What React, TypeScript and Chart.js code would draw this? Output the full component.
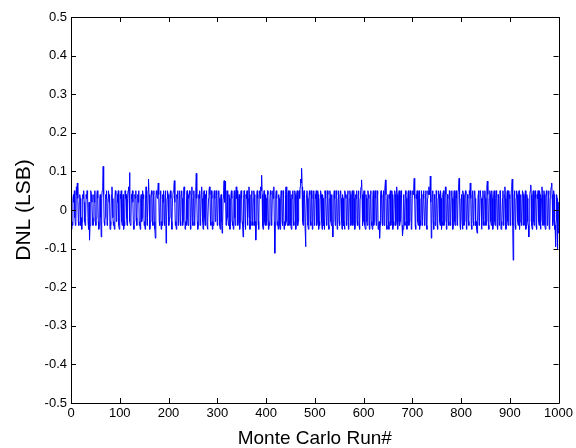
import React, { useEffect, useRef } from "react";
import { Chart, registerables } from "chart.js";

Chart.register(...registerables);

const xTicks = [0, 100, 200, 300, 400, 500, 600, 700, 800, 900, 1000];
const yTickLabels = ["-0.5", "-0.4", "-0.3", "-0.2", "-0.1", "0", "0.1", "0.2", "0.3", "0.4", "0.5"];
const xTitle = "Monte Carlo Run#";
const yTitle = "DNL (LSB)";

// DNL per Monte Carlo run (1..1000)
const dnl = [
  -0.05, -0.03, -0.04, 0.03, 0.04, 0.02, 0.05, -0.02, -0.04, -0.03, 0.06, 0.04, 0.07, 0.03, -0.03, -0.04, 0.02, 0.04, 0.03, -0.04, -0.02, -0.05, -0.03, 0.04, 0.03,
  0.05, 0.02, -0.03, -0.04, -0.02, 0.04, 0.03, 0.05, 0.04, -0.03, -0.05, 0.02, -0.078, -0.04, 0.03, 0.05, 0.04, 0.02, -0.02, -0.04, -0.03, 0.04, 0.02, 0.05, -0.03,
  -0.04, -0.02, 0.04, 0.05, 0.03, -0.03, -0.05, -0.04, 0.03, 0.04, -0.02, -0.07, 0.03, 0.05, 0.06, 0.113, 0.04, -0.03, -0.04, -0.02, 0.04, 0.03, 0.05, -0.04, -0.03,
  0.03, 0.05, 0.02, 0.04, -0.05, -0.03, -0.04, 0.04, 0.06, 0.03, -0.02, -0.04, -0.03, -0.05, 0.03, 0.05, 0.04, -0.03, -0.02, 0.04, 0.02, 0.05, -0.04, -0.05, -0.03,
  0.04, 0.03, 0.05, -0.03, -0.04, 0.02, 0.04, -0.05, -0.03, -0.04, 0.05, 0.03, 0.04, -0.02, -0.04, 0.03, 0.05, 0.06, 0.04, 0.097, -0.03, -0.04, -0.02, 0.04, 0.03,
  0.05, 0.02, -0.04, -0.05, -0.03, 0.04, 0.03, 0.05, -0.02, -0.04, 0.03, 0.04, 0.02, 0.05, -0.04, -0.03, -0.05, 0.03, 0.04, -0.03, -0.02, 0.05, 0.03, 0.04, -0.04,
  -0.03, -0.05, 0.04, 0.06, 0.03, -0.04, -0.02, 0.05, 0.08, 0.04, -0.04, -0.05, -0.03, 0.03, 0.05, 0.04, -0.03, -0.04, 0.04, 0.05, -0.03, -0.05, -0.073, 0.03, 0.05,
  0.04, 0.03, 0.05, 0.07, 0.04, -0.03, -0.04, 0.03, 0.05, -0.05, -0.03, -0.04, 0.04, 0.02, 0.05, -0.03, -0.04, 0.04, 0.05, -0.086, -0.04, 0.03, 0.05, 0.04, -0.03,
  -0.04, -0.02, 0.04, 0.05, 0.03, -0.03, -0.05, 0.03, 0.04, 0.05, 0.06, 0.076, 0.02, -0.04, -0.03, -0.05, 0.04, 0.03, 0.05, -0.04, -0.02, 0.03, 0.05, -0.03, -0.04,
  0.04, 0.05, 0.03, -0.04, -0.03, 0.05, 0.06, 0.04, -0.05, -0.03, -0.04, 0.03, 0.05, -0.02, -0.04, 0.04, 0.03, 0.05, 0.04, -0.05, -0.03, 0.04, 0.06, -0.03, -0.04,
  0.03, 0.05, -0.04, -0.03, 0.04, 0.06, 0.095, 0.03, -0.03, -0.05, -0.04, 0.04, 0.03, 0.05, -0.04, -0.02, 0.04, 0.06, 0.03, -0.03, -0.05, 0.04, 0.05, -0.02, -0.04,
  0.04, 0.03, 0.05, -0.04, -0.05, -0.03, 0.03, 0.05, 0.06, 0.04, -0.03, -0.04, 0.05, 0.03, -0.05, -0.03, -0.04, 0.04, 0.05, 0.03, -0.03, -0.02, 0.05, 0.04, -0.04,
  -0.03, 0.04, 0.05, 0.03, -0.04, -0.05, 0.03, 0.04, -0.03, -0.06, -0.04, 0.03, 0.05, 0.076, 0.02, 0.075, 0.04, -0.04, -0.03, 0.05, 0.04, -0.02, -0.04, 0.04, 0.03,
  -0.05, -0.03, 0.04, 0.05, 0.03, -0.04, -0.03, -0.05, 0.03, 0.05, -0.02, -0.04, 0.04, 0.06, 0.03, 0.05, -0.04, -0.03, 0.03, 0.04, -0.05, -0.03, 0.04, 0.05, 0.03,
  -0.03, -0.04, -0.07, 0.03, 0.05, 0.04, -0.03, -0.05, 0.04, 0.03, 0.05, -0.04, -0.02, 0.03, 0.06, 0.04, -0.05, -0.03, -0.04, 0.04, 0.05, -0.03, -0.04, 0.03, 0.05,
  0.04, -0.04, -0.03, -0.078, -0.04, 0.04, 0.05, 0.03, -0.03, -0.05, 0.04, 0.05, 0.03, 0.06, 0.05, 0.09, 0.04, -0.04, -0.05, 0.03, 0.05, -0.03, -0.04, 0.04, 0.03,
  -0.04, -0.03, 0.05, 0.04, -0.05, -0.03, -0.04, 0.03, 0.05, 0.04, -0.04, -0.02, 0.04, 0.05, 0.03, 0.06, -0.03, -0.112, -0.04, 0.04, 0.05, 0.03, -0.04, -0.03, -0.05,
  0.04, 0.03, -0.04, -0.05, 0.03, 0.05, 0.04, -0.03, -0.04, 0.05, 0.03, -0.05, -0.03, -0.04, 0.04, 0.06, 0.03, -0.03, -0.04, 0.04, 0.05, -0.04, -0.03, 0.05, 0.03,
  -0.04, -0.05, 0.04, 0.03, 0.05, -0.03, -0.04, 0.03, 0.05, 0.04, -0.05, -0.03, 0.04, 0.05, -0.04, -0.03, 0.04, 0.05, 0.03, 0.06, 0.08, 0.07, 0.108, 0.06, -0.03,
  -0.04, 0.04, 0.05, 0.03, -0.04, -0.095, -0.03, 0.04, 0.05, 0.03, -0.04, -0.05, 0.03, 0.05, 0.04, -0.03, -0.04, 0.05, 0.03, -0.05, -0.03, 0.04, 0.05, -0.04, -0.03,
  0.04, 0.03, 0.05, -0.04, -0.03, 0.05, 0.04, -0.05, -0.03, -0.04, 0.03, 0.05, 0.04, -0.03, -0.05, 0.04, 0.03, -0.04, -0.03, -0.05, 0.05, 0.04, 0.03, -0.04, -0.03,
  0.05, 0.04, -0.04, -0.05, 0.03, 0.05, 0.04, -0.03, -0.04, 0.04, -0.04, -0.07, -0.03, 0.04, 0.05, 0.03, -0.04, -0.03, 0.05, 0.04, -0.05, -0.04, 0.03, 0.05, -0.03,
  -0.04, 0.04, 0.05, 0.03, -0.03, -0.05, 0.04, 0.03, -0.04, -0.03, -0.05, 0.05, 0.04, 0.03, -0.04, -0.03, 0.04, 0.05, -0.05, -0.03, 0.03, 0.05, 0.04, -0.04, -0.03,
  0.04, 0.05, -0.04, -0.03, 0.05, 0.03, -0.05, -0.04, 0.04, 0.03, 0.05, -0.03, -0.04, 0.04, 0.05, -0.04, -0.05, 0.03, 0.05, 0.06, 0.078, 0.04, -0.04, -0.03, 0.04,
  0.05, 0.03, -0.04, -0.05, 0.04, 0.03, -0.03, -0.04, 0.05, 0.04, 0.03, -0.05, -0.03, 0.04, 0.05, -0.04, -0.03, -0.05, 0.03, 0.05, -0.04, -0.03, 0.04, 0.05, 0.03,
  -0.04, -0.03, 0.05, 0.04, -0.05, -0.04, -0.03, -0.073, -0.04, 0.04, 0.05, 0.03, -0.03, -0.04, 0.04, 0.05, -0.04, 0.03, 0.05, 0.078, 0.04, -0.04, -0.05, 0.03, 0.04,
  -0.03, -0.05, 0.04, 0.03, 0.05, -0.04, -0.03, 0.05, 0.04, -0.05, -0.03, -0.04, 0.03, 0.05, 0.04, -0.04, -0.03, 0.06, 0.04, -0.05, -0.03, 0.04, 0.05, -0.04, -0.03,
  0.04, 0.05, 0.03, -0.04, -0.066, -0.05, 0.04, 0.03, -0.03, -0.04, 0.05, 0.04, 0.03, -0.05, -0.03, 0.04, 0.05, -0.04, -0.03, 0.03, 0.05, 0.04, -0.05, -0.04, 0.04,
  0.05, 0.04, 0.06, 0.082, 0.03, -0.04, -0.05, 0.04, 0.03, 0.05, -0.03, -0.04, 0.04, 0.05, -0.05, -0.03, -0.04, 0.03, 0.05, -0.04, -0.03, 0.04, 0.05, 0.03, -0.04,
  -0.03, 0.04, 0.05, -0.04, -0.05, 0.03, 0.05, 0.04, 0.06, 0.05, 0.04, 0.088, 0.02, -0.073, -0.04, 0.04, 0.05, -0.03, -0.05, 0.04, 0.03, -0.04, -0.03, 0.05, 0.04,
  -0.04, -0.05, 0.03, 0.05, 0.04, -0.03, -0.04, 0.05, 0.03, -0.05, -0.03, -0.04, 0.04, 0.05, -0.04, -0.03, 0.03, 0.06, 0.04, -0.05, -0.04, 0.04, 0.03, -0.03, -0.04,
  0.05, 0.04, -0.04, -0.03, 0.04, 0.05, 0.03, -0.05, -0.04, 0.03, 0.05, -0.03, -0.04, 0.04, 0.05, 0.03, -0.04, -0.03, 0.05, 0.06, 0.082, 0.04, -0.04, -0.05, 0.03,
  0.04, -0.03, -0.05, 0.05, 0.04, -0.04, -0.03, 0.03, 0.05, 0.04, -0.05, -0.04, 0.04, 0.03, -0.03, -0.04, 0.05, 0.04, 0.07, 0.03, -0.04, -0.05, 0.04, 0.05, -0.03,
  -0.04, 0.04, 0.05, 0.03, -0.04, -0.03, -0.05, -0.06, -0.03, 0.04, 0.05, -0.04, -0.03, 0.05, 0.04, 0.03, -0.05, -0.04, 0.03, 0.05, -0.03, -0.04, 0.04, 0.05, 0.03,
  -0.04, -0.03, 0.06, 0.075, 0.04, -0.04, -0.05, 0.03, 0.05, 0.04, -0.03, -0.04, 0.05, 0.03, -0.05, -0.04, 0.04, 0.05, -0.03, -0.04, 0.03, 0.05, 0.04, -0.04, -0.05,
  0.04, 0.03, -0.04, -0.03, 0.05, 0.04, -0.05, -0.03, -0.04, 0.03, 0.05, -0.04, -0.03, 0.04, 0.06, 0.03, -0.05, -0.04, 0.04, 0.05, -0.03, -0.04, 0.05, 0.03, 0.04,
  -0.04, -0.03, 0.05, 0.06, 0.08, -0.04, -0.13, -0.03, 0.04, 0.05, -0.04, -0.05, 0.03, 0.05, 0.04, -0.03, -0.04, 0.04, 0.05, -0.05, -0.03, 0.04, 0.03, -0.04, -0.03,
  0.05, 0.05, 0.04, -0.04, -0.03, 0.03, 0.05, -0.05, -0.04, 0.04, 0.03, -0.03, -0.04, -0.07, -0.03, 0.04, 0.05, 0.065, 0.04, -0.04, -0.05, 0.03, 0.05, -0.03, -0.04,
  0.04, 0.05, 0.03, -0.04, -0.05, 0.04, 0.03, 0.05, -0.03, -0.04, 0.05, 0.04, -0.05, -0.03, 0.03, 0.06, 0.04, -0.04, -0.03, 0.05, 0.04, -0.04, -0.05, 0.03, 0.05,
  0.04, -0.04, -0.03, 0.04, 0.05, -0.05, -0.04, 0.03, 0.05, 0.06, 0.07, 0.04, -0.04, -0.03, 0.05, 0.04, -0.05, -0.04, -0.095, -0.03, 0.04, 0.03, -0.1, 0.02, -0.06, -0.02,
];

const FONT = "'Liberation Sans', Arial, Helvetica, sans-serif";

const matlabBox = {
  id: "matlabBox",
  afterDraw(chart: any) {
    const { ctx, chartArea: a, scales } = chart;
    const xs = scales.x;
    const ys = scales.y;
    const tl = 5;
    ctx.save();
    ctx.strokeStyle = "#000";
    ctx.lineWidth = 1;
    ctx.beginPath();
    ctx.rect(Math.round(a.left) + 0.5, Math.round(a.top) + 0.5, Math.round(a.right - a.left), Math.round(a.bottom - a.top));
    xs.ticks.forEach((t: any) => {
      const px = Math.round(xs.getPixelForValue(t.value)) + 0.5;
      ctx.moveTo(px, a.bottom);
      ctx.lineTo(px, a.bottom - tl);
      ctx.moveTo(px, a.top);
      ctx.lineTo(px, a.top + tl);
    });
    ys.ticks.forEach((t: any) => {
      const py = Math.round(ys.getPixelForValue(t.value)) + 0.5;
      ctx.moveTo(a.left, py);
      ctx.lineTo(a.left + tl, py);
      ctx.moveTo(a.right, py);
      ctx.lineTo(a.right - tl, py);
    });
    ctx.stroke();
    ctx.restore();
  },
};

export default function App() {
  const ref = useRef<HTMLCanvasElement | null>(null);
  useEffect(() => {
    if (!ref.current) return;
    const chart = new Chart(ref.current, {
      type: "line",
      data: {
        datasets: [
          {
            data: dnl.map((v, i) => ({ x: i + 1, y: v })),
            borderColor: "#0000FF",
            borderWidth: 1,
            pointRadius: 0,
            tension: 0,
            fill: false,
          },
        ],
      },
      options: {
        animation: false,
        responsive: false,
        events: [],
        layout: { padding: { top: 17, right: 16, left: 0, bottom: 0 } },
        plugins: { legend: { display: false }, tooltip: { enabled: false } },
        scales: {
          x: {
            type: "linear",
            min: 0,
            max: 1000,
            afterFit: (s: any) => {
              s.height = 45;
            },
            afterBuildTicks: (s: any) => {
              s.ticks = xTicks.map((v) => ({ value: v }));
            },
            grid: { display: false, drawTicks: false },
            border: { display: false },
            ticks: {
              padding: 3,
              color: "#000",
              font: { family: FONT, size: 13 },
              maxRotation: 0,
              autoSkip: false,
              callback: (v: any) => String(v),
            },
            title: {
              display: true,
              text: xTitle,
              color: "#000",
              font: { family: FONT, size: 19, lineHeight: 1.0 },
              padding: { top: 0, bottom: 0 },
            },
          },
          y: {
            type: "linear",
            min: -0.5,
            max: 0.5,
            afterFit: (s: any) => {
              s.width = 71;
            },
            afterBuildTicks: (s: any) => {
              s.ticks = yTickLabels.map((l) => ({ value: parseFloat(l) }));
            },
            grid: { display: false, drawTicks: false },
            border: { display: false },
            ticks: {
              padding: 4,
              color: "#000",
              font: { family: FONT, size: 13 },
              autoSkip: false,
              callback: (_v: any, i: number) => yTickLabels[i],
            },
            title: {
              display: true,
              text: yTitle,
              color: "#000",
              font: { family: FONT, size: 21, lineHeight: 1.2 },
              padding: { top: 12, bottom: 0 },
            },
          },
        },
      },
      plugins: [matlabBox],
    });
    return () => chart.destroy();
  }, []);
  return (
    <div style={{ position: "fixed", left: 0, top: 0, width: 576, height: 448, background: "#fff" }}>
      <canvas ref={ref} width={576} height={448} style={{ display: "block" }} />
    </div>
  );
}
